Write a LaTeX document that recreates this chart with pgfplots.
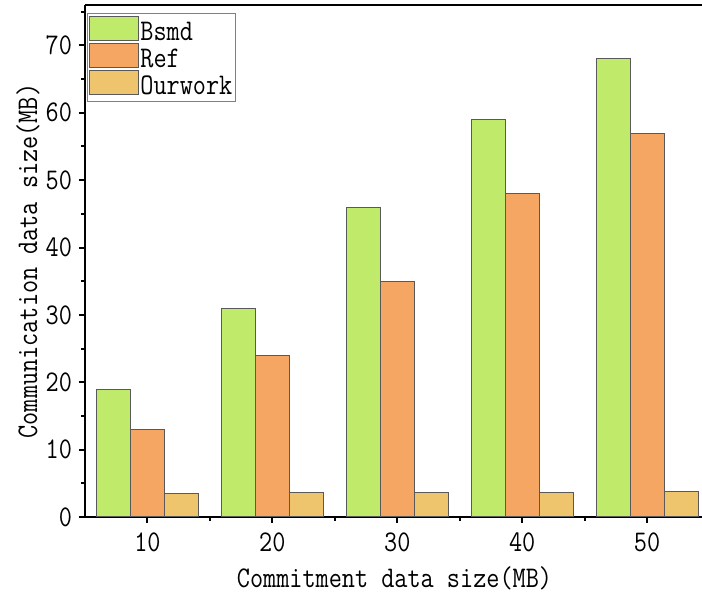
\documentclass[border=0pt]{standalone}
\usepackage{fontspec}
\setmainfont{Latin Modern Mono}[FakeStretch=0.85]
\usepackage{pgfplots}
\pgfplotsset{compat=1.18}
\definecolor{cB}{HTML}{C0EB6A}
\definecolor{cR}{HTML}{F5A662}
\definecolor{cO}{HTML}{EEC56C}
\begin{document}
\begin{tikzpicture}
\begin{axis}[
  at={(0,0)}, anchor=south west,
  scale only axis, width=308.5pt, height=256pt,
  xmin=5, xmax=54.4, ymin=0, ymax=76,
  clip=false,
  axis x line*=bottom, axis y line*=left,
  axis line style={line width=1.2pt, -},
  ybar=0pt, bar width=17pt,
  xtick={10,20,30,40,50}, minor xtick={15,25,35,45},
  ytick={0,10,...,70}, minor ytick={5,15,...,75},
  tick align=outside, major tick length=3pt, minor tick length=1.8pt,
  every tick/.style={black, line width=1pt},
  tick label style={font=\fontsize{15pt}{17pt}\selectfont},
  xticklabel style={yshift=-1.5pt},
  /pgf/number format/assume math mode=true,
  xlabel={Commitment data size(MB)},
  ylabel={Communication data size(MB)},
  label style={font=\fontsize{15pt}{17pt}\selectfont},
  xlabel style={at={(axis description cs:0.5016,-0.119)}, anchor=center},
  ylabel style={at={(axis description cs:-0.0924,0.5)}, anchor=center},
  legend style={at={(axis description cs:0.003,0.984)}, anchor=north west,
    draw=gray, line width=0.6pt, font=\fontsize{15pt}{12pt}\selectfont,
    row sep=-1.5pt, inner sep=1pt, nodes={inner sep=0.5pt, text height=7.5pt, text depth=2pt, anchor=west}},
  legend cell align=left,
]
\addplot[fill=cB, draw=black!65, line width=0.5pt,
  legend image code/.code={\draw[fill=cB, draw=black!65, line width=0.5pt] (0pt,-2.5pt) rectangle (24.5pt,9.5pt);}]
  coordinates {(10,19) (20,31) (30,46) (40,59) (50,68)};
\addplot[fill=cR, draw=black!65, line width=0.5pt,
  legend image code/.code={\draw[fill=cR, draw=black!65, line width=0.5pt] (0pt,-2.5pt) rectangle (24.5pt,9.5pt);}]
  coordinates {(10,13) (20,24) (30,35) (40,48) (50,57)};
\addplot[fill=cO, draw=black!65, line width=0.5pt,
  legend image code/.code={\draw[fill=cO, draw=black!65, line width=0.5pt] (0pt,-2.5pt) rectangle (24.5pt,9.5pt);}]
  coordinates {(10,3.5) (20,3.6) (30,3.6) (40,3.7) (50,3.8)};
\legend{Bsmd,Ref,Ourwork}
\draw[line width=1.2pt] (rel axis cs:0,1) -- (rel axis cs:1.02,1);
\end{axis}
\pgfresetboundingbox
\useasboundingbox (-42.5pt,-39pt) rectangle (308.5pt,258.5pt);
\end{tikzpicture}
\end{document}
